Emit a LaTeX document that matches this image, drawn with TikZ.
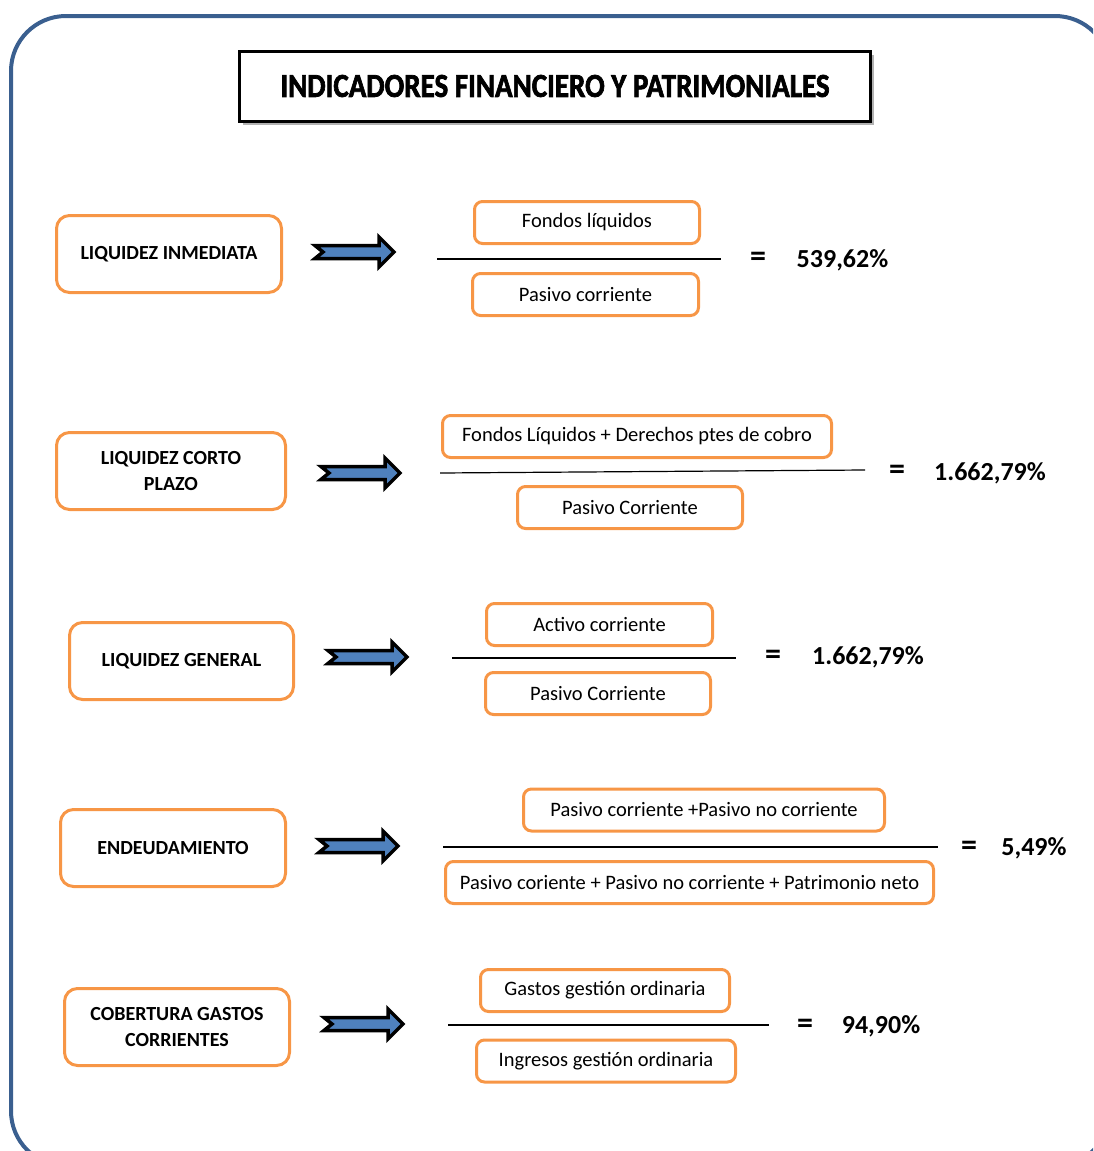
\documentclass[tikz,border=0pt]{standalone}
\usepackage{fontspec}
\setmainfont{Carlito}
\newfontfamily\headingfont[FakeBold=2.2]{Carlito Bold}
\usetikzlibrary{shadows}
\definecolor{frameblue}{HTML}{3A5F8F}
\definecolor{boxorange}{HTML}{F79646}
\definecolor{arrowblue}{HTML}{4F81BD}
\newcommand\headingtext{\resizebox{549pt}{22pt}{\headingfont INDICADORES FINANCIERO Y PATRIMONIALES}}

\begin{document}
\begin{tikzpicture}[x=1pt,y=-1pt,
  namebox/.style={draw=boxorange, line width=3pt, rounded corners=13pt, fill=white,
    minimum width=#1, minimum height=77pt, inner sep=0pt, align=center,
    font=\fontsize{20}{26}\selectfont\bfseries},
  termbox/.style={draw=boxorange, line width=3pt, rounded corners=8pt, fill=white,
    minimum width=#1, minimum height=42pt, inner sep=0pt,
    font=\fontsize{20.5}{24}\selectfont},
  barline/.style={line width=1.2pt, black},
  eqsign/.style={font=\fontsize{32}{34}\selectfont\bfseries, inner sep=0pt},
  result/.style={font=\fontsize{26}{30}\selectfont\bfseries, inner sep=0pt},
  blockarrow/.pic={
    \path[draw=black, line width=3.5pt, fill=arrowblue, line join=miter]
      (2,-6.5) -- (66,-6.5) -- (66,-15) -- (81,0) -- (66,15) -- (66,6.5) -- (2,6.5) -- (10,0) -- cycle;}
]
\useasboundingbox (0,0) rectangle (1093,1151);
\clip (0,0) rectangle (1093,1151);

% outer frame
\draw[frameblue, line width=4pt, rounded corners=55pt] (11,16) rectangle (1110,1166);

% heading
\node[draw=black, line width=3pt, fill=white, minimum width=631pt, minimum height=70pt,
  drop shadow={shadow xshift=3pt, shadow yshift=-3pt, fill=black!60, opacity=.5}]
  (heading) at (555,86.5) {};
\node[inner sep=0pt] (headtext) at (555,86) {\headingtext};

% row 1: liquidez inmediata
\node[namebox=225pt] (n1) at (169,254) {LIQUIDEZ INMEDIATA};
\pic at (313,252) {blockarrow};
\node[termbox=225pt] (t1) at (587,222.5) {Fondos líquidos};
\node[termbox=226pt] (b1) at (585.5,294.5) {Pasivo corriente};
\coordinate (l1a) at (437,259); \coordinate (l1b) at (721,259);
\draw[barline] (l1a) -- (l1b);
\node[eqsign] (e1) at (758,259) {=};
\node[result] (r1) at (842.5,260) {539,62\%};

% row 2: liquidez corto plazo
\node[namebox=229pt] (n2) at (171,471) {LIQUIDEZ CORTO\\PLAZO};
\pic at (319,473) {blockarrow};
\node[termbox=389pt] (t2) at (637,436.5) {Fondos Líquidos + Derechos ptes de cobro};
\node[termbox=225pt] (b2) at (630,507.5) {Pasivo Corriente};
\coordinate (l2a) at (440,473); \coordinate (l2b) at (865,470);
\draw[barline] (l2a) -- (l2b);
\node[eqsign] (e2) at (897,472) {=};
\node[result] (r2) at (990,473) {1.662,79\%};

% row 3: liquidez general
\node[namebox=224pt] (n3) at (181.5,661) {LIQUIDEZ GENERAL};
\pic at (326,657) {blockarrow};
\node[termbox=226pt] (t3) at (599.5,624.5) {Activo corriente};
\node[termbox=225pt] (b3) at (598,693.5) {Pasivo Corriente};
\coordinate (l3a) at (452,658); \coordinate (l3b) at (736,658);
\draw[barline] (l3a) -- (l3b);
\node[eqsign] (e3) at (773,657) {=};
\node[result] (r3) at (868,657) {1.662,79\%};

% row 4: endeudamiento
\node[namebox=225pt] (n4) at (173,848) {ENDEUDAMIENTO};
\pic at (317,846) {blockarrow};
\node[termbox=361pt] (t4) at (704,810) {Pasivo corriente +Pasivo no corriente};
\node[termbox=488pt] (b4) at (689.5,882.5) {Pasivo coriente + Pasivo no corriente + Patrimonio neto};
\coordinate (l4a) at (443,847); \coordinate (l4b) at (938,847);
\draw[barline] (l4a) -- (l4b);
\node[eqsign] (e4) at (969,848) {=};
\node[result] (r4) at (1034,848) {5,49\%};

% row 5: cobertura gastos corrientes
\node[namebox=225pt] (n5) at (177,1027) {COBERTURA GASTOS\\CORRIENTES};
\pic at (322,1024) {blockarrow};
\node[termbox=249pt] (t5) at (605,990.5) {Gastos gestión ordinaria};
\node[termbox=259pt] (b5) at (606,1061) {Ingresos gestión ordinaria};
\coordinate (l5a) at (448,1025); \coordinate (l5b) at (769,1025);
\draw[barline] (l5a) -- (l5b);
\node[eqsign] (e5) at (805,1026) {=};
\node[result] (r5) at (881,1026) {94,90\%};
\end{tikzpicture}
\end{document}
